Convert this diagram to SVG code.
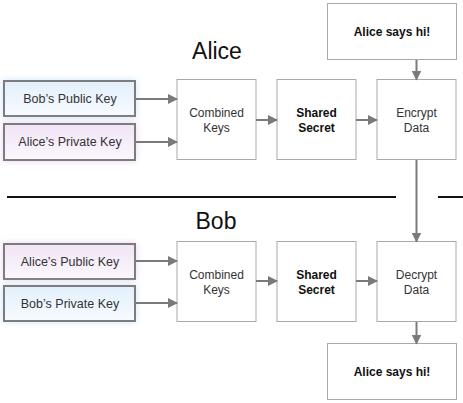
<svg xmlns="http://www.w3.org/2000/svg" width="463" height="403" viewBox="0 0 463 403">
<defs>
<linearGradient id="gBlue" x1="0" y1="0" x2="0" y2="1"><stop offset="0" stop-color="#e2f0fc"/><stop offset="1" stop-color="#f7fbff"/></linearGradient>
<linearGradient id="gPurple" x1="0" y1="0" x2="0" y2="1"><stop offset="0" stop-color="#f1e4f6"/><stop offset="1" stop-color="#fbf7fd"/></linearGradient>
<filter id="glowB" x="-20%" y="-40%" width="140%" height="180%"><feGaussianBlur stdDeviation="3.5"/></filter>
<marker id="ah" viewBox="0 0 10 10" refX="9" refY="5" markerWidth="5" markerHeight="5" orient="auto" markerUnits="strokeWidth"><path d="M0,0 L10,5 L0,10 z" fill="#7a7a7a"/></marker>
<style>
.box{fill:#fff;stroke:#a9a9a9;stroke-width:1}
.key{stroke:#7d7d7d;stroke-width:2}
.lbl{font-family:"Liberation Sans",Arial,sans-serif;font-size:12px;fill:#333;text-anchor:middle}
.k{font-size:12.5px}
.b{font-weight:bold;fill:#111}
.title{font-family:"Liberation Sans",Arial,sans-serif;font-size:23px;fill:#111;text-anchor:middle}
.con{stroke:#7a7a7a;stroke-width:2;fill:none;marker-end:url(#ah)}
.sep{stroke:#111;stroke-width:2}
</style>
</defs>

<rect width="463" height="403" fill="#fff"/>

<g id="separator">
<line class="sep" x1="7" y1="197" x2="396" y2="197"/>
<line class="sep" x1="438" y1="197" x2="463" y2="197"/>
</g>

<g id="title-alice"><text class="title" x="217" y="59">Alice</text></g>
<g id="title-bob"><text class="title" x="216" y="229">Bob</text></g>

<g id="bob-public-key-a">
<rect x="3" y="80" width="133" height="38" fill="#cfe5fa" filter="url(#glowB)"/>
<rect class="key" x="4" y="81" width="131" height="35" fill="url(#gBlue)"/>
<text class="lbl k" x="70" y="103">Bob’s Public Key</text>
</g>
<g id="alice-private-key">
<rect x="3" y="123" width="133" height="38" fill="#e9d4f3" filter="url(#glowB)"/>
<rect class="key" x="4" y="124" width="131" height="36" fill="url(#gPurple)"/>
<text class="lbl k" x="70" y="146">Alice’s Private Key</text>
</g>
<g id="combined-keys-a">
<rect class="box" x="177" y="79.5" width="79" height="80"/>
<text class="lbl" x="216.5" y="117">Combined</text><text class="lbl" x="216.5" y="132">Keys</text>
</g>
<g id="shared-secret-a">
<rect class="box" x="277" y="79.5" width="79" height="80"/>
<text class="lbl b" x="316.5" y="117">Shared</text><text class="lbl b" x="316.5" y="132">Secret</text>
</g>
<g id="encrypt-data">
<rect class="box" x="377" y="79.5" width="79" height="80"/>
<text class="lbl" x="416.5" y="117">Encrypt</text><text class="lbl" x="416.5" y="132">Data</text>
</g>
<g id="message-in">
<rect class="box" x="327.5" y="3.5" width="129" height="56"/>
<text class="lbl b" x="392" y="36">Alice says hi!</text>
</g>

<g id="alice-public-key">
<rect x="3" y="243" width="133" height="37" fill="#e9d4f3" filter="url(#glowB)"/>
<rect class="key" x="4" y="244" width="131" height="35" fill="url(#gPurple)"/>
<text class="lbl k" x="70" y="266">Alice’s Public Key</text>
</g>
<g id="bob-private-key">
<rect x="3" y="285" width="133" height="37" fill="#cfe5fa" filter="url(#glowB)"/>
<rect class="key" x="4" y="286" width="131" height="35" fill="url(#gBlue)"/>
<text class="lbl k" x="70" y="308">Bob’s Private Key</text>
</g>
<g id="combined-keys-b">
<rect class="box" x="177" y="241.5" width="79" height="80"/>
<text class="lbl" x="216.5" y="279">Combined</text><text class="lbl" x="216.5" y="294">Keys</text>
</g>
<g id="shared-secret-b">
<rect class="box" x="277" y="241.5" width="79" height="80"/>
<text class="lbl b" x="316.5" y="279">Shared</text><text class="lbl b" x="316.5" y="294">Secret</text>
</g>
<g id="decrypt-data">
<rect class="box" x="377" y="241.5" width="79" height="80"/>
<text class="lbl" x="416.5" y="279">Decrypt</text><text class="lbl" x="416.5" y="294">Data</text>
</g>
<g id="message-out">
<rect class="box" x="327.5" y="343.5" width="129" height="56"/>
<text class="lbl b" x="392" y="376">Alice says hi!</text>
</g>

<g id="connectors">
<line class="con" x1="136" y1="99" x2="177" y2="99"/>
<line class="con" x1="136" y1="142" x2="177" y2="142"/>
<line class="con" x1="256" y1="120" x2="277" y2="120"/>
<line class="con" x1="356" y1="120" x2="377" y2="120"/>
<line class="con" x1="416.5" y1="60" x2="416.5" y2="79.5"/>
<line class="con" x1="416.5" y1="160" x2="416.5" y2="241.5"/>
<line class="con" x1="136" y1="261" x2="177" y2="261"/>
<line class="con" x1="136" y1="303" x2="177" y2="303"/>
<line class="con" x1="256" y1="281" x2="277" y2="281"/>
<line class="con" x1="356" y1="281" x2="377" y2="281"/>
<line class="con" x1="416.5" y1="322" x2="416.5" y2="343.5"/>
</g>
</svg>
